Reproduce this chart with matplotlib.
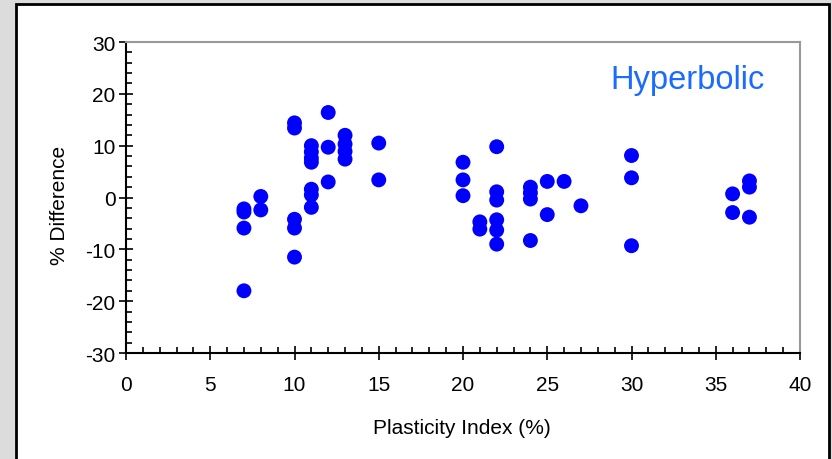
import matplotlib
matplotlib.use("Agg")
import matplotlib.pyplot as plt
from matplotlib.patches import Rectangle
from matplotlib.ticker import MultipleLocator

plt.rcParams['font.family'] = ['Liberation Sans', 'DejaVu Sans']
plt.rcParams['axes.unicode_minus'] = False

# plasticity index (%) and % difference
pi_vals = [7, 7, 7, 7,
           8, 8,
           10, 10, 10, 10, 10,
           11, 11, 11, 11, 11, 11, 11,
           12, 12, 12,
           13, 13, 13, 13,
           15, 15,
           20, 20, 20,
           21, 21,
           22, 22, 22, 22, 22, 22,
           24, 24, 24, 24,
           25, 25,
           26,
           27,
           30, 30, 30,
           36, 36,
           37, 37, 37]
diff_vals = [-2.2, -2.8, -5.9, -18.0,
             0.2, -2.4,
             14.4, 13.4, -4.2, -5.9, -11.5,
             10.0, 8.8, 7.6, 6.8, 1.6, 0.5, -1.9,
             16.4, 9.7, 3.0,
             12.0, 10.3, 8.9, 7.4,
             10.5, 3.4,
             6.8, 3.4, 0.35,
             -4.7, -6.1,
             9.8, 1.1, -0.5, -4.3, -6.3, -9.0,
             2.0, 0.9, -0.3, -8.3,
             3.1, -3.3,
             3.1,
             -1.6,
             8.1, 3.8, -9.3,
             0.7, -2.9,
             3.2, 2.0, -3.8]

fig = plt.figure(figsize=(8.32, 4.6), dpi=100)
fig.patch.set_facecolor('#dcdcdc')
fig.patches.append(Rectangle((16 / 832, -0.05), 813 / 832, 1 - 5 / 460 + 0.05,
                             transform=fig.transFigure, facecolor='white',
                             edgecolor='black', linewidth=2, zorder=-1))

ax = fig.add_axes([126 / 832, 1 - 354 / 460, 674 / 832, 311 / 460])
ax.set_zorder(1)
ax.set_facecolor('white')
ax.scatter(pi_vals, diff_vals, s=115, color='#0000ff', edgecolors='none',
           zorder=3, clip_on=False)

ax.set_xlim(0, 40)
ax.set_ylim(-30, 30)
ax.xaxis.set_major_locator(MultipleLocator(5))
ax.xaxis.set_minor_locator(MultipleLocator(1))
ax.yaxis.set_major_locator(MultipleLocator(10))
ax.yaxis.set_minor_locator(MultipleLocator(2))
ax.tick_params(which='major', direction='inout', length=10, width=1.2,
               labelsize=15, colors='black')
ax.tick_params(axis='x', which='major', pad=11)
ax.tick_params(axis='y', which='major', pad=2.5)
ax.tick_params(which='minor', direction='in', length=4, width=1.2)

for s in ['left', 'bottom']:
    ax.spines[s].set_color('black')
    ax.spines[s].set_linewidth(1.5)
for s in ['top', 'right']:
    ax.spines[s].set_color('#999999')
    ax.spines[s].set_linewidth(1.5)

ax.set_xlabel('Plasticity Index (%)', fontsize=15, va='center')
ax.xaxis.set_label_coords(0.4985, -0.238)
ax.set_ylabel('% Difference', fontsize=15, va='center')
ax.yaxis.set_label_coords(-0.099, 0.479)

fig.text(765 / 832, 1 - 81 / 460, 'Hyperbolic', ha='right',
         va='center', fontsize=23.5, color='#1a6cff')

fig.savefig('out.png', dpi=100, facecolor=fig.get_facecolor())
